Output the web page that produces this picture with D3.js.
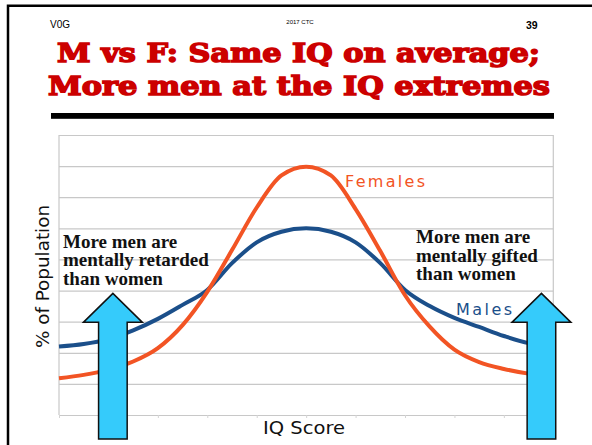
<!DOCTYPE html>
<html>
<head>
<meta charset="utf-8">
<script src="https://cdn.jsdelivr.net/npm/d3@7"></script>
<style>
  body { margin: 0; background: #fff; }
  svg { display: block; }
</style>
</head>
<body>
<div id="chart"></div>
<script>
// IQ score samples (x axis)
const iqScores = [50, 55, 60, 65, 70, 75, 80, 85, 90, 95, 100, 105, 110, 115, 120, 125, 130, 135, 140, 145, 150];
// % of population
const females = [1.18, 1.29, 1.46, 1.72, 2.15, 2.89, 3.96, 5.30, 6.67, 7.70, 7.98, 7.70, 6.62, 5.27, 3.85, 2.84, 2.10, 1.70, 1.48, 1.33, 1.25];
const males   = [2.20, 2.28, 2.44, 2.72, 3.09, 3.54, 4.02, 4.88, 5.55, 5.89, 6.00, 5.89, 5.55, 4.88, 4.02, 3.50, 3.12, 2.83, 2.54, 2.31, 2.22];
const xTicks = [50, 60, 70, 80, 90, 100, 110, 120, 130, 140, 150];
const yTicks = [0, 1, 2, 3, 4, 5, 6, 7, 8, 9];

const titleLines = ['M vs F: Same IQ on average;', 'More men at the IQ extremes'];
const leftNote = ['More men are', 'mentally retarded', 'than women'];
const rightNote = ['More men are', 'mentally gifted', 'than women'];
// arrows: position on IQ axis, tip height in % units
const arrows = [{ iq: 60.9, tip: 3.91 }, { iq: 147.6, tip: 3.91 }];

const width = 592, height = 445;
const plot = { left: 59, right: 553.3, top: 135, bottom: 415 };

const svg = d3.select('#chart').append('svg')
  .attr('width', width)
  .attr('height', height);

svg.append('rect').attr('width', width).attr('height', height).attr('fill', '#fff');

// slide frame (cropped on right and bottom)
svg.append('path')
  .attr('d', 'M8,' + height + 'V5.8H' + width)
  .attr('fill', 'none')
  .attr('stroke', '#000')
  .attr('stroke-width', 2.5);

// header
svg.append('text').attr('x', 50).attr('y', 27.5)
  .attr('font-family', 'Liberation Sans, Arial, sans-serif').attr('font-size', 10)
  .text('V0G');
svg.append('text').attr('x', 300).attr('y', 23.5).attr('text-anchor', 'middle')
  .attr('font-family', 'Liberation Sans, Arial, sans-serif').attr('font-size', 6)
  .text('2017 CTC');
svg.append('text').attr('x', 526).attr('y', 28.5)
  .attr('font-family', 'Liberation Sans, Arial, sans-serif').attr('font-size', 10.5).attr('font-weight', 'bold')
  .text('39');

// title
const titlePos = [{ x: 57, y: 62, len: 483 }, { x: 48, y: 95, len: 502 }];
svg.selectAll('.title').data(titleLines).enter().append('text')
  .attr('class', 'title')
  .attr('x', (d, i) => titlePos[i].x)
  .attr('y', (d, i) => titlePos[i].y)
  .attr('textLength', (d, i) => titlePos[i].len)
  .attr('lengthAdjust', 'spacingAndGlyphs')
  .attr('font-family', 'DejaVu Serif, serif')
  .attr('font-weight', 'bold')
  .attr('font-size', 26)
  .attr('fill', '#cc0000')
  .attr('stroke', '#cc0000')
  .attr('stroke-width', 1.5)
  .text(d => d);

svg.append('rect').attr('x', 51).attr('y', 113).attr('width', 503).attr('height', 5.8).attr('fill', '#000');

// scales
const x = d3.scaleLinear().domain([50, 150]).range([plot.left, plot.right]);
const y = d3.scaleLinear().domain([0, 9]).range([plot.bottom, plot.top]);

const g = svg.append('g');

g.append('g')
  .attr('class', 'grid')
  .attr('transform', 'translate(' + plot.left + ',0)')
  .call(d3.axisLeft(y).tickValues(yTicks).tickSize(-(plot.right - plot.left)).tickFormat(''))
  .call(a => a.select('.domain').remove())
  .call(a => a.selectAll('line').attr('stroke', '#c8c8c8').attr('stroke-width', 1.2));

g.append('g')
  .attr('transform', 'translate(0,' + plot.bottom + ')')
  .call(d3.axisBottom(x).tickValues(xTicks).tickSize(3).tickSizeOuter(0).tickFormat(''))
  .call(a => a.select('.domain').attr('stroke', '#c8c8c8').attr('stroke-width', 1.2))
  .call(a => a.selectAll('line').attr('stroke', '#d4d4d4'));

[plot.left, plot.right].forEach(px => {
  g.append('line').attr('x1', px).attr('x2', px).attr('y1', plot.top).attr('y2', plot.bottom)
    .attr('stroke', '#c8c8c8').attr('stroke-width', 1.2);
});

// curves
const line = d3.line()
  .curve(d3.curveMonotoneX)
  .x((d, i) => x(iqScores[i]))
  .y(d => y(d));

const series = [
  { name: 'Males', values: males, color: '#1b4f8a' },
  { name: 'Females', values: females, color: '#f25424' }
];

g.selectAll('.curve').data(series).enter().append('path')
  .attr('class', 'curve')
  .attr('fill', 'none')
  .attr('stroke', d => d.color)
  .attr('stroke-width', 4)
  .attr('d', d => line(d.values));

// series labels
g.append('text').attr('x', 345).attr('y', 187)
  .attr('textLength', 80).attr('lengthAdjust', 'spacing')
  .attr('font-family', 'DejaVu Sans, sans-serif').attr('font-size', 16)
  .attr('fill', '#f25424').text('Females');
g.append('text').attr('x', 456).attr('y', 315)
  .attr('textLength', 56).attr('lengthAdjust', 'spacing')
  .attr('font-family', 'DejaVu Sans, sans-serif').attr('font-size', 16)
  .attr('fill', '#1b4f8a').text('Males');

// axis titles
svg.append('text')
  .attr('transform', 'translate(49,276.5) rotate(-90)')
  .attr('text-anchor', 'middle')
  .attr('textLength', 143).attr('lengthAdjust', 'spacingAndGlyphs')
  .attr('font-family', 'DejaVu Sans, sans-serif').attr('font-size', 17)
  .attr('fill', '#111').text('% of Population');
svg.append('text')
  .attr('x', 304).attr('y', 433.5)
  .attr('text-anchor', 'middle')
  .attr('textLength', 82).attr('lengthAdjust', 'spacingAndGlyphs')
  .attr('font-family', 'DejaVu Sans, sans-serif').attr('font-size', 17)
  .attr('fill', '#111').text('IQ Score');

// notes
function note(lines, x0, y0) {
  svg.append('g').selectAll('text').data(lines).enter().append('text')
    .attr('x', x0)
    .attr('y', (d, i) => y0 + i * 18.4)
    .attr('font-family', 'Liberation Serif, Times New Roman, serif')
    .attr('font-weight', 'bold')
    .attr('font-size', 19)
    .attr('fill', '#111')
    .text(d => d);
}
note(leftNote, 63, 247.7);
note(rightNote, 416, 243.3);

// arrows
const headHalf = 29.5, shaftHalf = 14.3, headLen = 29, arrowBottom = 439;
svg.selectAll('.arrow').data(arrows).enter().append('path')
  .attr('class', 'arrow')
  .attr('fill', '#35cbfb')
  .attr('stroke', '#111')
  .attr('stroke-width', 1.5)
  .attr('stroke-linejoin', 'miter')
  .attr('d', d => {
    const cx = x(d.iq), ty = y(d.tip), by = ty + headLen;
    return 'M' + cx + ',' + ty +
      'L' + (cx + headHalf) + ',' + by +
      'L' + (cx + shaftHalf) + ',' + by +
      'L' + (cx + shaftHalf) + ',' + arrowBottom +
      'L' + (cx - shaftHalf) + ',' + arrowBottom +
      'L' + (cx - shaftHalf) + ',' + by +
      'L' + (cx - headHalf) + ',' + by + 'Z';
  });
</script>
</body>
</html>
